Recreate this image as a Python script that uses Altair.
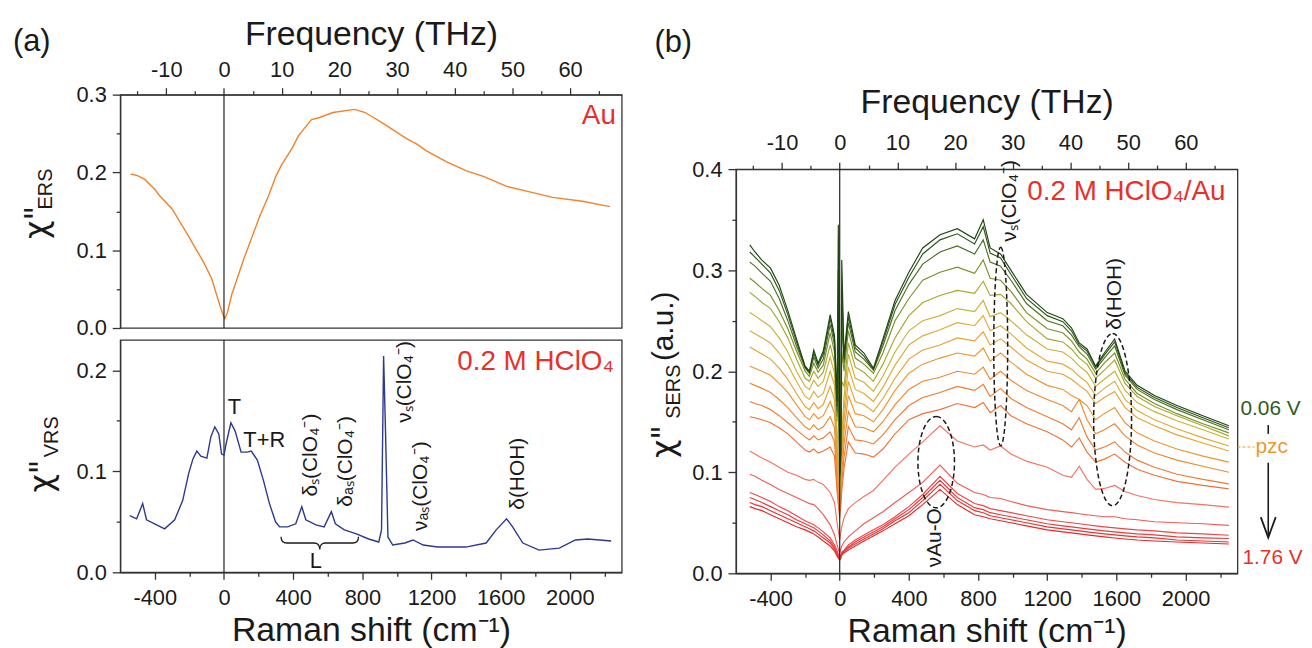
import altair as alt
import pandas as pd

CM_PER_THZ = 33.356
X_DOMAIN = [-600, 2300]
FONT = "Liberation Sans"
INK = "#1a1a1a"
RED = "#e8302a"

# ---------------- (a) top: electronic Raman response of Au ----------------
ers_shift = [-540, -500, -458, -400, -372, -300, -213, -119, -72, -25, -10, 5, 20, 45, 115, 209, 258, 300, 334, 396,
             430, 506, 544, 630, 755, 817, 927, 1051, 1118, 1168, 1285, 1402, 1500, 1635, 1786, 1900, 2073, 2232]
ers_chi = [0.198, 0.196, 0.191, 0.178, 0.170, 0.153, 0.121, 0.085, 0.064, 0.030, 0.020, 0.012, 0.020, 0.043, 0.089,
           0.145, 0.170, 0.195, 0.210, 0.232, 0.247, 0.268, 0.270, 0.277, 0.281, 0.277, 0.262, 0.244, 0.236, 0.228,
           0.214, 0.202, 0.195, 0.182, 0.174, 0.168, 0.163, 0.156]

# ---------------- (a) bottom: vibrational Raman response of 0.2 M HClO4 ----------------
vrs_shift = [-545, -505, -470, -448, -401, -343, -285, -239, -204, -180, -157, -134, -99, -76, -53, -30, -14, 0, 12, 40,
             64, 99, 134, 158, 193, 228, 263, 298, 322, 368, 415, 450, 473, 532, 579, 621, 644, 696, 766, 837,
             895, 911, 923, 934, 948, 976, 1046, 1093, 1152, 1234, 1398, 1516, 1574, 1634, 1669, 1728, 1822, 1939,
             2032, 2103, 2173, 2239]
vrs_chi = [0.056, 0.053, 0.068, 0.052, 0.048, 0.043, 0.052, 0.071, 0.098, 0.112, 0.120, 0.115, 0.113, 0.134, 0.144,
           0.137, 0.117, 0.116, 0.127, 0.148, 0.140, 0.119, 0.119, 0.120, 0.111, 0.091, 0.068, 0.050, 0.045, 0.045,
           0.048, 0.065, 0.052, 0.047, 0.045, 0.060, 0.048, 0.042, 0.038, 0.033, 0.030, 0.042, 0.214, 0.140, 0.035,
           0.027, 0.029, 0.032, 0.027, 0.025, 0.025, 0.029, 0.042, 0.053, 0.045, 0.029, 0.022, 0.024, 0.032, 0.033,
           0.032, 0.031]

# ---------------- (b): SERS spectra at 18 potentials ----------------
sers_shift = [-520, -490, -450, -400, -350, -300, -250, -200, -175, -150, -125, -95, -55, -30, -15, -8, 0, 6, 12, 25,
              50, 90, 140, 195, 250, 320, 400, 480, 580, 680, 780, 830, 870, 930, 990, 1080, 1200, 1290, 1340, 1385,
              1430, 1480, 1530, 1590, 1650, 1720, 1820, 1950, 2100, 2250]
potentials = ["0.06 V", "0.16 V", "0.26 V", "0.36 V", "0.46 V", "0.56 V", "0.66 V", "0.76 V", "0.86 V",
              "0.96 V", "1.06 V", "1.16 V", "1.26 V", "1.36 V", "1.46 V", "1.56 V", "1.66 V", "1.76 V"]
sers_chi = [
    [0.325, 0.318, 0.31, 0.302, 0.285, 0.260, 0.232, 0.205, 0.200, 0.221, 0.208, 0.220, 0.256, 0.235, 0.170, 0.345, 0.100, 0.120, 0.310, 0.215,
     0.259, 0.226, 0.218, 0.203, 0.232, 0.270, 0.298, 0.322, 0.335, 0.341, 0.331, 0.350, 0.322, 0.316, 0.300, 0.276, 0.258, 0.252, 0.243, 0.228,
     0.222, 0.205, 0.218, 0.232, 0.200, 0.186, 0.176, 0.166, 0.156, 0.146],
    [0.318, 0.313, 0.306, 0.297, 0.280, 0.256, 0.229, 0.204, 0.199, 0.218, 0.206, 0.217, 0.252, 0.231, 0.165, 0.300, 0.098, 0.118, 0.280, 0.212,
     0.254, 0.223, 0.215, 0.202, 0.229, 0.266, 0.293, 0.316, 0.330, 0.336, 0.326, 0.343, 0.317, 0.312, 0.296, 0.272, 0.255, 0.249, 0.240, 0.226,
     0.220, 0.204, 0.216, 0.229, 0.198, 0.184, 0.174, 0.164, 0.154, 0.144],
    [0.308, 0.304, 0.297, 0.289, 0.272, 0.25, 0.225, 0.203, 0.198, 0.214, 0.203, 0.212, 0.246, 0.226, 0.16, 0.26, 0.096, 0.115, 0.25, 0.208,
     0.248, 0.219, 0.212, 0.201, 0.225, 0.26, 0.286, 0.306, 0.318, 0.324, 0.316, 0.330, 0.308, 0.304, 0.29, 0.267, 0.250, 0.245, 0.236, 0.224,
     0.217, 0.202, 0.213, 0.225, 0.196, 0.182, 0.172, 0.162, 0.152, 0.142],
    [0.292, 0.288, 0.282, 0.275, 0.26, 0.242, 0.22, 0.2, 0.195, 0.208, 0.199, 0.206, 0.238, 0.219, 0.155, 0.22, 0.094, 0.11, 0.22, 0.2,
     0.24, 0.213, 0.207, 0.198, 0.218, 0.25, 0.272, 0.29, 0.298, 0.303, 0.297, 0.31, 0.292, 0.29, 0.279, 0.258, 0.242, 0.238, 0.23, 0.219,
     0.212, 0.198, 0.208, 0.218, 0.192, 0.178, 0.168, 0.158, 0.148, 0.139],
    [0.278, 0.274, 0.268, 0.262, 0.249, 0.233, 0.212, 0.193, 0.19, 0.2, 0.193, 0.199, 0.226, 0.208, 0.15, 0.2, 0.09, 0.105, 0.19, 0.185,
     0.228, 0.204, 0.199, 0.19, 0.207, 0.233, 0.255, 0.268, 0.275, 0.28, 0.277, 0.289, 0.275, 0.276, 0.267, 0.249, 0.232, 0.229, 0.222, 0.213,
     0.207, 0.193, 0.201, 0.211, 0.188, 0.175, 0.165, 0.156, 0.146, 0.136],
    [0.258, 0.255, 0.25, 0.244, 0.233, 0.219, 0.2, 0.185, 0.182, 0.191, 0.185, 0.19, 0.214, 0.198, 0.14, 0.11, 0.085, 0.1, 0.135, 0.175,
     0.217, 0.193, 0.189, 0.18, 0.195, 0.219, 0.24, 0.25, 0.255, 0.262, 0.259, 0.27, 0.254, 0.258, 0.25, 0.236, 0.222, 0.219, 0.213, 0.205,
     0.199, 0.185, 0.192, 0.2, 0.181, 0.169, 0.16, 0.151, 0.142, 0.133],
    [0.24, 0.237, 0.233, 0.228, 0.218, 0.206, 0.19, 0.175, 0.172, 0.18, 0.174, 0.178, 0.2, 0.186, 0.13, 0.105, 0.08, 0.095, 0.125, 0.163,
     0.204, 0.182, 0.178, 0.17, 0.184, 0.206, 0.226, 0.235, 0.241, 0.248, 0.245, 0.255, 0.24, 0.245, 0.237, 0.223, 0.21, 0.207, 0.202, 0.195,
     0.189, 0.176, 0.183, 0.19, 0.172, 0.161, 0.152, 0.143, 0.134, 0.126],
    [0.224, 0.221, 0.217, 0.212, 0.203, 0.192, 0.178, 0.165, 0.162, 0.169, 0.163, 0.167, 0.185, 0.172, 0.12, 0.098, 0.075, 0.09, 0.115, 0.152,
     0.19, 0.17, 0.167, 0.16, 0.173, 0.193, 0.212, 0.221, 0.226, 0.233, 0.23, 0.239, 0.226, 0.232, 0.224, 0.211, 0.2, 0.197, 0.192, 0.186,
     0.18, 0.168, 0.174, 0.18, 0.164, 0.154, 0.146, 0.137, 0.129, 0.121],
    [0.205, 0.203, 0.2, 0.196, 0.188, 0.179, 0.167, 0.155, 0.152, 0.158, 0.153, 0.156, 0.17, 0.158, 0.11, 0.09, 0.07, 0.085, 0.108, 0.141,
     0.176, 0.158, 0.156, 0.15, 0.162, 0.181, 0.198, 0.207, 0.213, 0.218, 0.215, 0.223, 0.21, 0.218, 0.209, 0.197, 0.186, 0.182, 0.176, 0.172,
     0.166, 0.152, 0.158, 0.164, 0.149, 0.139, 0.131, 0.123, 0.116, 0.110],
    [0.188, 0.186, 0.183, 0.179, 0.172, 0.164, 0.154, 0.145, 0.142, 0.147, 0.142, 0.145, 0.155, 0.144, 0.1, 0.083, 0.065, 0.08, 0.1, 0.128,
     0.16, 0.145, 0.144, 0.14, 0.15, 0.167, 0.182, 0.19, 0.194, 0.2, 0.197, 0.204, 0.192, 0.2, 0.191, 0.181, 0.172, 0.166, 0.16, 0.172,
     0.152, 0.138, 0.142, 0.148, 0.136, 0.127, 0.119, 0.112, 0.106, 0.100],
    [0.17, 0.168, 0.166, 0.162, 0.156, 0.149, 0.142, 0.135, 0.132, 0.136, 0.132, 0.134, 0.14, 0.13, 0.09, 0.075, 0.06, 0.072, 0.09, 0.115,
     0.145, 0.132, 0.131, 0.128, 0.137, 0.152, 0.166, 0.174, 0.179, 0.185, 0.181, 0.187, 0.175, 0.183, 0.173, 0.164, 0.155, 0.148, 0.142, 0.154,
     0.135, 0.122, 0.125, 0.13, 0.12, 0.112, 0.105, 0.098, 0.093, 0.0885],
    [0.155, 0.154, 0.152, 0.149, 0.144, 0.138, 0.13, 0.122, 0.12, 0.123, 0.119, 0.121, 0.125, 0.116, 0.08, 0.068, 0.055, 0.066, 0.082, 0.104,
     0.13, 0.119, 0.118, 0.115, 0.123, 0.138, 0.152, 0.158, 0.162, 0.168, 0.164, 0.169, 0.159, 0.166, 0.156, 0.148, 0.14, 0.132, 0.125, 0.134,
     0.12, 0.11, 0.113, 0.118, 0.11, 0.103, 0.097, 0.091, 0.087, 0.0836],
    [0.121, 0.118, 0.114, 0.11, 0.105, 0.1, 0.097, 0.093, 0.092, 0.093, 0.09, 0.088, 0.08, 0.07, 0.05, 0.042, 0.033, 0.04, 0.046, 0.055,
     0.064, 0.07, 0.076, 0.082, 0.092, 0.105, 0.118, 0.13, 0.146, 0.131, 0.125, 0.127, 0.122, 0.126, 0.118, 0.111, 0.105, 0.097, 0.095, 0.106,
     0.093, 0.083, 0.084, 0.087, 0.081, 0.077, 0.073, 0.07, 0.068, 0.0655],
    [0.098, 0.096, 0.092, 0.088, 0.083, 0.079, 0.075, 0.071, 0.069, 0.068, 0.064, 0.058, 0.048, 0.038, 0.028, 0.024, 0.02, 0.024, 0.027, 0.031,
     0.036, 0.042, 0.049, 0.055, 0.061, 0.07, 0.08, 0.09, 0.107, 0.089, 0.08, 0.078, 0.075, 0.074, 0.071, 0.067, 0.063, 0.061, 0.06, 0.059,
     0.058, 0.057, 0.056, 0.056, 0.054, 0.053, 0.051, 0.05, 0.049, 0.0475],
    [0.08, 0.078, 0.075, 0.071, 0.066, 0.062, 0.057, 0.052, 0.05, 0.048, 0.045, 0.041, 0.035, 0.028, 0.022, 0.019, 0.016, 0.018, 0.021, 0.023,
     0.028, 0.033, 0.038, 0.043, 0.048, 0.056, 0.066, 0.078, 0.096, 0.079, 0.069, 0.067, 0.064, 0.062, 0.06, 0.057, 0.053, 0.051, 0.05, 0.049,
     0.048, 0.047, 0.046, 0.045, 0.044, 0.043, 0.042, 0.04, 0.039, 0.0377],
    [0.075, 0.073, 0.07, 0.066, 0.062, 0.058, 0.053, 0.049, 0.047, 0.045, 0.042, 0.038, 0.032, 0.026, 0.02, 0.018, 0.015, 0.017, 0.02, 0.022,
     0.026, 0.031, 0.036, 0.041, 0.046, 0.054, 0.063, 0.075, 0.092, 0.075, 0.065, 0.063, 0.06, 0.058, 0.056, 0.053, 0.049, 0.047, 0.046, 0.045,
     0.044, 0.043, 0.042, 0.041, 0.04, 0.039, 0.038, 0.036, 0.035, 0.0344],
    [0.07, 0.068, 0.066, 0.062, 0.058, 0.054, 0.05, 0.046, 0.044, 0.042, 0.039, 0.035, 0.03, 0.024, 0.019, 0.017, 0.014, 0.016, 0.019, 0.021,
     0.025, 0.029, 0.034, 0.039, 0.044, 0.052, 0.06, 0.072, 0.088, 0.072, 0.062, 0.06, 0.057, 0.055, 0.053, 0.05, 0.046, 0.044, 0.043, 0.042,
     0.041, 0.04, 0.039, 0.038, 0.037, 0.036, 0.035, 0.033, 0.032, 0.031],
    [0.066, 0.064, 0.062, 0.058, 0.054, 0.05, 0.046, 0.043, 0.041, 0.039, 0.036, 0.032, 0.027, 0.022, 0.017, 0.015, 0.013, 0.015, 0.018, 0.02,
     0.023, 0.027, 0.032, 0.037, 0.042, 0.049, 0.057, 0.068, 0.083, 0.068, 0.058, 0.056, 0.054, 0.052, 0.05, 0.047, 0.043, 0.041, 0.04, 0.039,
     0.038, 0.037, 0.036, 0.035, 0.034, 0.033, 0.032, 0.031, 0.03, 0.029],
]
sers_colors = ["#1e4512", "#2b5618", "#4a6e1e", "#7a8f26", "#a6a82e", "#c9b236", "#dcac38", "#e5a234", "#ea9631",
               "#ed882f", "#ef7c30", "#f07234", "#f2735f", "#f05a55", "#ee4646", "#ea3a3a", "#e63333", "#e22b2b"]

# ---------------- tick values ----------------
x_ticks = [-400, -200, 0, 200, 400, 600, 800, 1000, 1200, 1400, 1600, 1800, 2000, 2200]
thz_ticks = [-15, -10, -5, 0, 5, 10, 15, 20, 25, 30, 35, 40, 45, 50, 55, 60, 65]
ya_ticks = [0, 0.05, 0.1, 0.15, 0.2, 0.25, 0.3]
yb_ticks = [0, 0.05, 0.1, 0.15, 0.2]
yc_ticks = [0, 0.05, 0.1, 0.15, 0.2, 0.25, 0.3, 0.35, 0.4]

# ---------------- annotation anchors (data units) ----------------
vrs_tag_text = ["T", "T+R", "L"]
vrs_tag_shift = [60, 233, 531]
vrs_tag_chi = [0.164, 0.131, 0.011]
vrs_rot_text = ["δₛ(ClO₄⁻)", "δₐₛ(ClO₄⁻)", "νₛ(ClO₄⁻)", "νₐₛ(ClO₄⁻)", "δ(HOH)"]
vrs_rot_shift = [503, 704, 1048, 1140, 1703]
vrs_rot_chi = [0.075, 0.065, 0.148, 0.041, 0.062]
brace_shift, brace_chi = [554], [0.029]
sers_rot_text = ["νₛ(ClO₄⁻)", "δ(HOH)", "νAu-O"]
sers_rot_shift = [985, 1594, 554]
sers_rot_chi = [0.328, 0.241, 0.006]
ellipse_shift = [931, 1578, 558]
ellipse_chi = [0.2245, 0.152, 0.110]

assert len(ers_shift) == len(ers_chi)
assert len(vrs_shift) == len(vrs_chi)
for row in sers_chi:
    assert len(row) == len(sers_shift)

# ---------------- helpers ----------------
XTEST = "datum.value % 400 === 0"
TTEST = "datum.value % 10 === 0"
YTEST = "round(datum.value * 100) % 10 === 0"


def cond(test, big, small):
    return {"condition": {"test": test, "value": big}, "value": small}


xs = alt.Scale(domain=X_DOMAIN, nice=False, zero=False)
ts = alt.Scale(domain=[X_DOMAIN[0] / CM_PER_THZ, X_DOMAIN[1] / CM_PER_THZ], nice=False, zero=False)


def bottom_axis():
    return alt.Axis(orient="bottom", values=x_ticks, labelExpr=f"{XTEST} ? '' + datum.value : ''",
                    tickSize=cond(XTEST, 7, 4), labelPadding=8, labelOverlap=False, labelFlush=False,
                    title="Raman shift (cm⁻¹)", titlePadding=6)


def top_axis(label_pad, title_pad):
    return alt.Axis(orient="top", values=thz_ticks, labelExpr=f"{TTEST} ? '' + datum.value : ''",
                    tickSize=cond(TTEST, 7, 4), labelPadding=label_pad, labelOverlap=False, labelFlush=False,
                    title="Frequency (THz)", titlePadding=title_pad)


def y_axis(values):
    return alt.Axis(values=values, labelExpr=f"{YTEST} ? format(datum.value, '.1f') : ''",
                    tickSize=cond(YTEST, 8, 4), labelPadding=6, labelOverlap=False, labelFlush=False, title=None)


class Panel:
    """Holds a panel's scales and axes so that every layer shares identical definitions."""

    def __init__(self, ys, yaxis, xaxis):
        self.ys, self.yaxis, self.xaxis = ys, yaxis, xaxis

    def enc(self, xf="x:Q", yf="y:Q"):
        return dict(x=alt.X(xf, scale=xs, axis=self.xaxis), y=alt.Y(yf, scale=self.ys, axis=self.yaxis))

    def text(self, texts, xv, yv, **kw):
        kw.setdefault("font", FONT)
        df = pd.DataFrame({"x": xv, "y": yv, "t": texts})
        return alt.Chart(df).mark_text(**kw).encode(text="t:N", **self.enc())

    def point(self, xv, yv, **kw):
        df = pd.DataFrame({"x": xv, "y": yv})
        return alt.Chart(df).mark_point(**kw).encode(**self.enc())

    def ytitle(self, main, sub, x_main, y_main, x_sub, y_sub):
        return [
            self.text([main], [x_main], [y_main], angle=270, align="left", baseline="alphabetic",
                      fontSize=32, color=INK, font="DejaVu Sans"),
            self.text([sub], [x_sub], [y_sub], angle=270, align="left", baseline="alphabetic",
                      fontSize=20, color=INK),
        ]


zero_df = pd.DataFrame({"thz": [0.0]})


def zero_rule_thz(label_pad, title_pad):
    return alt.Chart(zero_df).mark_rule(color="#222", strokeWidth=1.2).encode(
        x=alt.X("thz:Q", scale=ts, axis=top_axis(label_pad, title_pad)))


# ---------------- panel (a) top ----------------
pa = Panel(alt.Scale(domain=[0, 0.3], nice=False, zero=False), y_axis(ya_ticks), None)
ers_line = alt.Chart(pd.DataFrame({"shift": ers_shift, "chi": ers_chi})).mark_line(
    color="#f0832a", strokeWidth=1.4).encode(**pa.enc("shift:Q", "chi:Q"))
a_layers = [ers_line,
            pa.text(["(a)"], [-1220], [0.367], align="left", fontSize=31, color=INK),
            pa.text(["Au"], [2266], [0.273], align="right", fontSize=28, color=RED)]
a_layers += pa.ytitle('χ"', "ERS", -1025, 0.1145, -996, 0.1525)
top_left = alt.layer(alt.layer(*a_layers), zero_rule_thz(6, 7)).resolve_scale(x="independent").properties(
    width=505, height=235)

# ---------------- panel (a) bottom ----------------
pb = Panel(alt.Scale(domain=[0, 0.23], nice=False, zero=False), y_axis(yb_ticks), bottom_axis())
vrs_line = alt.Chart(pd.DataFrame({"shift": vrs_shift, "chi": vrs_chi})).mark_line(
    color="#2b3990", strokeWidth=1.4).encode(**pb.enc("shift:Q", "chi:Q"))
zero_b = alt.Chart(pd.DataFrame({"x": [0]})).mark_rule(color="#222", strokeWidth=1.2).encode(
    x=alt.X("x:Q", scale=xs, axis=pb.xaxis))
BRACE = "M -1,-0.16 Q -1,0 -0.85,0 L -0.15,0 Q 0,0 0,0.17 Q 0,0 0.15,0 L 0.85,0 Q 1,0 1,-0.16"
b_layers = [zero_b, vrs_line,
            pb.text(vrs_tag_text, vrs_tag_shift, vrs_tag_chi, fontSize=22, color=INK),
            pb.text(vrs_rot_text, vrs_rot_shift, vrs_rot_chi, angle=270, align="left", fontSize=21, color=INK),
            pb.point(brace_shift, brace_chi, shape=BRACE, size=6084, filled=False, color=INK,
                     strokeWidth=1.3, opacity=1),
            pb.text(["0.2 M HClO₄"], [2254], [0.208], align="right", fontSize=28, color=RED)]
b_layers += pb.ytitle('χ"', "VRS", -996, 0.079, -962, 0.114)
bottom_left = alt.layer(*b_layers).properties(width=505, height=234)

# ---------------- panel (b) ----------------
pc = Panel(alt.Scale(domain=[0, 0.4], nice=False, zero=False), y_axis(yc_ticks), bottom_axis())
rows = []
for k in range(len(potentials) - 1, -1, -1):
    for s, v in zip(sers_shift, sers_chi[k]):
        rows.append({"shift": s, "chi": v, "potential": potentials[k]})
sers_df = pd.DataFrame(rows)
sers_lines = alt.Chart(sers_df).mark_line(strokeWidth=1.15).encode(
    color=alt.Color("potential:N", scale=alt.Scale(domain=potentials, range=sers_colors), legend=None),
    **pc.enc("shift:Q", "chi:Q"))

E1 = "M 0,-1 A 0.07,1 0 1,1 0,1 A 0.07,1 0 1,1 0,-1 Z"
E2 = "M 0,-1 A 0.22,1 0 1,1 0,1 A 0.22,1 0 1,1 0,-1 Z"
E3 = "M 0,-1 A 0.4,1 0 1,1 0,1 A 0.4,1 0 1,1 0,-1 Z"
CHEVRON = "M -0.73,-1 L 0,1 L 0.73,-1"
dash = dict(filled=False, color=INK, strokeWidth=1.5, strokeDash=[5, 3], opacity=1)

pzc_rule = alt.Chart(pd.DataFrame({"x": [2300], "x2": [2398], "y": [0.125]})).mark_rule(
    color="#e89b2e", strokeWidth=1, strokeDash=[3, 2]).encode(x2="x2:Q", **pc.enc())
arrow_rules = alt.Chart(pd.DataFrame({"x": [2478, 2478], "y": [0.1467, 0.1094], "y2": [0.138, 0.0357]})).mark_rule(
    color=INK, strokeWidth=1.6).encode(y2="y2:Q", **pc.enc())

c_layers = [sers_lines,
            pc.point([ellipse_shift[0]], [ellipse_chi[0]], shape=E1, size=40000, **dash),
            pc.point([ellipse_shift[1]], [ellipse_chi[1]], shape=E2, size=30067, **dash),
            pc.point([ellipse_shift[2]], [ellipse_chi[2]], shape=E3, size=8464, **dash),
            pc.text(sers_rot_text, sers_rot_shift, sers_rot_chi, angle=270, align="left", fontSize=21, color=INK),
            pc.text(["(b)"], [-1071], [0.525], align="left", fontSize=31, color=INK),
            pc.text(["0.2 M HClO₄/Au"], [2231], [0.377], align="right", fontSize=28, color=RED),
            pc.text(["0.06 V"], [2317], [0.1625], align="left", fontSize=21, color="#2e5c1e"),
            pc.text(["pzc"], [2404], [0.125], align="left", fontSize=21, color="#e89b2e"),
            pc.text(["1.76 V"], [2329], [0.015], align="left", fontSize=21, color=RED),
            pzc_rule, arrow_rules,
            pc.point([2478], [0.0455], shape=CHEVRON, size=424, filled=False, color=INK, strokeWidth=1.8, opacity=1),
            pc.text(["(a.u.)"], [-962], [0.21], angle=270, align="left", baseline="alphabetic",
                    fontSize=30, color=INK)]
c_layers += pc.ytitle('χ"', "SERS", -956, 0.114, -922, 0.153)
right = alt.layer(alt.layer(*c_layers), zero_rule_thz(8, 12)).resolve_scale(x="independent").properties(
    width=505, height=407)

spacer = alt.Chart(pd.DataFrame({"s": [0]})).mark_point(opacity=0).encode(
    x=alt.X("s:Q", axis=None), y=alt.Y("s:Q", axis=None)).properties(
    width=505, height=75, view=alt.ViewBackground(stroke="transparent"))

left_col = alt.vconcat(top_left, bottom_left, spacing=12, bounds="flush")
right_col = alt.vconcat(spacer, right, spacing=0, bounds="flush")

# the flush layout counts a nested column as zero wide, so the gap includes the left panel width (505 + 115)
chart = alt.hconcat(left_col, right_col, spacing=620, bounds="flush").properties(
    padding={"left": 4, "top": 7, "right": 0, "bottom": 0}
).configure_view(stroke="#333", strokeWidth=1.3).configure_axis(
    domainColor="#333", domainWidth=1.3, tickColor="#333", tickWidth=1.3,
    labelFont=FONT, labelFontSize=22, labelColor=INK,
    titleFont=FONT, titleFontSize=34, titleFontWeight="normal", titleColor=INK, grid=False
).configure_text(font=FONT)

chart.save("out.html", embed_options={"renderer": "svg", "actions": False})
